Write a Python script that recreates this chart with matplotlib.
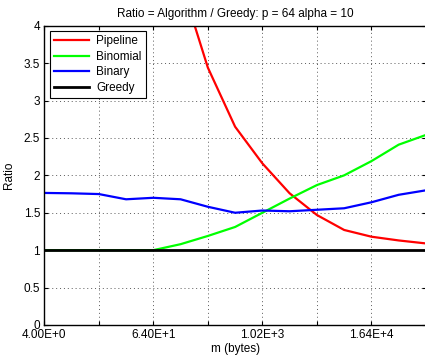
import matplotlib
matplotlib.use("Agg")
import matplotlib.pyplot as plt
import numpy as np

plt.rcParams['font.family'] = ['Liberation Sans', 'DejaVu Sans']

# message sizes m = 2^k bytes
k_all = list(range(2, 17))
m_all = [2 ** k for k in k_all]

pipeline_k = list(range(7, 17))
pipeline = [4.6, 3.44, 2.65, 2.16, 1.76, 1.47, 1.27, 1.18, 1.13, 1.09]
binomial = [1.0, 1.0, 1.0, 1.0, 1.0, 1.08, 1.19, 1.31, 1.50, 1.69, 1.87, 2.0, 2.19, 2.41, 2.54]
binary = [1.765, 1.76, 1.75, 1.68, 1.70, 1.68, 1.58, 1.50, 1.53, 1.52, 1.54, 1.56, 1.64, 1.74, 1.80]
greedy = [1.0] * 15

xticks = [4, 16, 64, 256, 1024, 4096, 16384, 65536]
xticklabels = ['4.00E+0', '', '6.40E+1', '', '1.02E+3', '', '1.64E+4', '']
yticks = [0, 0.5, 1, 1.5, 2, 2.5, 3, 3.5, 4]
yticklabels = ['0', '0.5', '1', '1.5', '2', '2.5', '3', '3.5', '4']

fs = 8.5
fig = plt.figure(figsize=(4.25, 3.56), dpi=100)
ax = fig.add_axes([0.1042, 0.0871, 0.898, 0.8407])

ax.plot([2 ** k for k in pipeline_k], pipeline, color='#ff0000', lw=1.6, label='Pipeline')
ax.plot(m_all, binomial, color='#00ff00', lw=1.6, label='Binomial')
ax.plot(m_all, binary, color='#0000ff', lw=1.6, label='Binary')
ax.plot(m_all, greedy, color='#000000', lw=2.0, label='Greedy')

ax.set_xscale('log', base=2)
ax.set_xlim(4, 65536)
ax.set_ylim(0, 4)
ax.set_xticks(xticks)
ax.set_xticklabels(xticklabels)
ax.xaxis.set_minor_locator(matplotlib.ticker.NullLocator())
ax.set_yticks(yticks)
ax.set_yticklabels(yticklabels)

ax.tick_params(direction='in', top=True, right=True, length=3, width=0.8, labelsize=fs, pad=3)
ax.grid(True, linestyle=(0, (1, 3)), color='0.35', lw=0.7)
for s in ax.spines.values():
    s.set_linewidth(1.0)

ax.set_title('Ratio = Algorithm / Greedy: p = 64 alpha = 10', fontsize=fs, pad=6)
ax.set_xlabel('m (bytes)', fontsize=fs, labelpad=1)
ax.set_ylabel('Ratio', fontsize=fs, labelpad=6)

leg = ax.legend(loc='upper left', fontsize=fs, frameon=True, fancybox=False,
                edgecolor='black', framealpha=1, borderaxespad=0.45,
                handlelength=3.0, handletextpad=0.6, labelspacing=0.3, borderpad=0.35)
leg.get_frame().set_linewidth(0.8)

fig.savefig('out.png', dpi=100)
